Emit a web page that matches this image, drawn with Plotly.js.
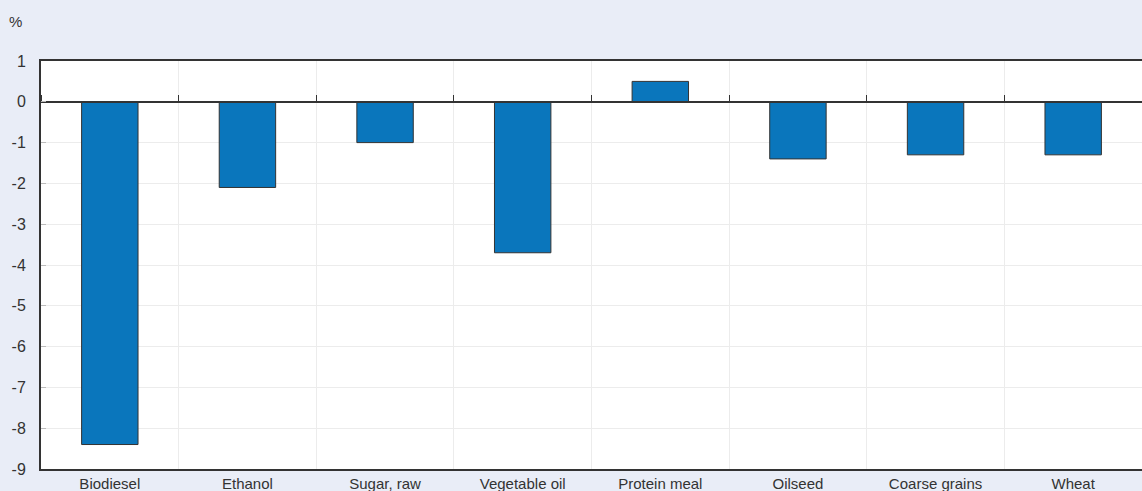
<!DOCTYPE html>
<html>
<head>
<meta charset="utf-8">
<script src="https://cdn.plot.ly/plotly-3.0.1.min.js"></script>
<style>html,body{margin:0;padding:0;background:#e9edf7;}#chart{width:1142px;height:491px;}</style>
</head>
<body>
<div id="chart"></div>
<script>
const categories = ["Biodiesel", "Ethanol", "Sugar, raw", "Vegetable oil", "Protein meal", "Oilseed", "Coarse grains", "Wheat"];
const values = [-8.4, -2.1, -1.0, -3.7, 0.5, -1.4, -1.3, -1.3];
const yTicks = [1, 0, -1, -2, -3, -4, -5, -6, -7, -8, -9];

const FONT = "Liberation Sans, Arial, Helvetica, sans-serif";

const traces = [
  {
    type: "bar",
    x: categories,
    y: values,
    marker: {color: "#0a76bc", line: {color: "#333333", width: 1}},
    hoverinfo: "x+y",
    xaxis: "x",
    yaxis: "y"
  },
  {
    type: "scatter",
    mode: "markers",
    x: categories,
    y: categories.map(() => null),
    marker: {opacity: 0},
    hoverinfo: "skip",
    showlegend: false,
    xaxis: "x2",
    yaxis: "y"
  }
];

const layout = {
  width: 1142,
  height: 491,
  paper_bgcolor: "#e9edf7",
  plot_bgcolor: "#ffffff",
  margin: {l: 41, r: 0, t: 61, b: 22, pad: 0},
  bargap: 0.59,
  showlegend: false,
  font: {family: FONT, size: 15, color: "#333333"},
  xaxis: {
    type: "category",
    categoryorder: "array",
    categoryarray: categories,
    tickson: "boundaries",
    showgrid: true,
    gridcolor: "#ececec",
    gridwidth: 1,
    ticks: "",
    showline: true,
    linecolor: "#333333",
    linewidth: 2,
    mirror: true,
    zeroline: false,
    ticklabelstandoff: 0,
    tickfont: {family: FONT, size: 15, color: "#333333"}
  },
  xaxis2: {
    type: "category",
    categoryorder: "array",
    categoryarray: categories,
    overlaying: "x",
    matches: "x",
    anchor: "free",
    position: 0.9,
    side: "top",
    tickson: "boundaries",
    ticks: "outside",
    ticklen: 6,
    tickwidth: 1,
    tickcolor: "#333333",
    showticklabels: false,
    showgrid: false,
    showline: true,
    linecolor: "#333333",
    linewidth: 2,
    zeroline: false
  },
  yaxis: {
    range: [-9, 1],
    tickmode: "array",
    tickvals: yTicks,
    ticktext: yTicks.map(String),
    showgrid: true,
    gridcolor: "#ececec",
    gridwidth: 1,
    zeroline: false,
    ticks: "inside",
    ticklen: 5,
    tickcolor: "#bbbbbb",
    showline: true,
    linecolor: "#333333",
    linewidth: 2,
    ticklabelstandoff: 10,
    tickfont: {family: FONT, size: 16, color: "#333333"}
  },
  annotations: [
    {
      text: "%",
      xref: "paper",
      yref: "paper",
      x: -0.0228,
      y: 1.097,
      xanchor: "center",
      yanchor: "middle",
      showarrow: false,
      font: {family: FONT, size: 15, color: "#333333"}
    }
  ]
};

Plotly.newPlot("chart", traces, layout, {displayModeBar: false, staticPlot: true});
</script>
</body>
</html>
